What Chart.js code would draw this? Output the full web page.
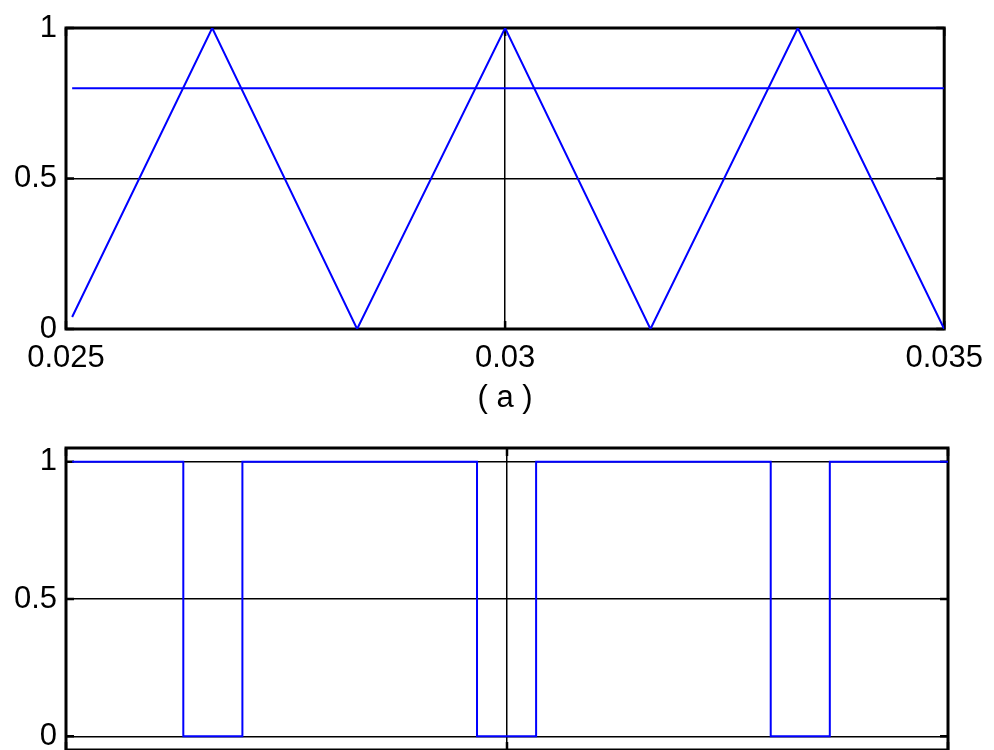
<!DOCTYPE html>
<html>
<head>
<meta charset="utf-8">
<script src="https://cdn.jsdelivr.net/npm/chart.js@4"></script>
<style>
  html, body { margin: 0; padding: 0; background: #fff; overflow: hidden; }
  #wrap { position: relative; width: 994px; height: 750px; overflow: hidden; }
  .box { position: absolute; left: 0; width: 994px; }
  #boxA { top: 0; height: 440px; }
  #boxB { top: 400px; height: 400px; }
</style>
</head>
<body>
<div id="wrap">
  <div class="box" id="boxA"><canvas id="chartA"></canvas></div>
  <div class="box" id="boxB"><canvas id="chartB"></canvas></div>
</div>
<script>
/* ── Data ────────────────────────────────────────────────────── */
const xTicks = [0.025, 0.03, 0.035];
const xTickLabels = ['0.025', '0.03', '0.035'];
const yTicks = [0, 0.5, 1];
const yTickLabels = ['0', '0.5', '1'];

// (a) carrier triangle + reference level
const carrierX = [0.02507, 0.026665, 0.028315, 0.03, 0.031655, 0.033333, 0.035];
const carrierY = [0.04, 1, 0, 1, 0, 1, 0];
const refX = [0.02507, 0.035];
const refY = [0.8, 0.8];

// (b) gate pulses (stepped)
const pulseX = [0.02507, 0.02633, 0.02700, 0.02966, 0.03033, 0.03299, 0.03366, 0.035];
const pulseY = [1, 0, 1, 0, 1, 0, 1, 1];

/* ── Shared bits ─────────────────────────────────────────────── */
const FONT = { family: '"Liberation Sans", Arial, sans-serif', size: 31 };
const BLUE = '#0000ff';
const pts = (xs, ys) => xs.map((x, i) => ({ x, y: ys[i] }));

// axes box + inward tick marks, drawn under the data
const boxPlugin = {
    id: 'matlabBox',
    beforeDatasetsDraw(chart) {
        const { ctx, chartArea: a, scales } = chart;
        ctx.save();
        ctx.strokeStyle = '#000';
        ctx.lineWidth = 3;
        ctx.strokeRect(a.left, a.top, a.right - a.left, a.bottom - a.top);
        ctx.lineWidth = 2.5;
        ctx.beginPath();
        xTicks.forEach(v => {
            const px = scales.x.getPixelForValue(v);
            ctx.moveTo(px, a.bottom); ctx.lineTo(px, a.bottom - 8);
            ctx.moveTo(px, a.top); ctx.lineTo(px, a.top + 8);
        });
        yTicks.forEach(v => {
            const py = scales.y.getPixelForValue(v);
            ctx.moveTo(a.left, py); ctx.lineTo(a.left + 8, py);
            ctx.moveTo(a.right, py); ctx.lineTo(a.right - 8, py);
        });
        ctx.stroke();
        ctx.restore();
    }
};

function fixedTicks(values) {
    return scale => { scale.ticks = values.map(v => ({ value: v })); };
}

function makeOptions(cfg) {
    return {
        responsive: true, maintainAspectRatio: false,
        animation: false,
        layout: { padding: cfg.padding },
        plugins: { legend: { display: false }, tooltip: { enabled: false } },
        scales: {
            x: {
                type: 'linear', min: 0.025, max: 0.035,
                afterBuildTicks: fixedTicks(xTicks),
                afterFit: s => { s.height = cfg.xHeight; },
                border: { display: false },
                grid: { color: '#000', lineWidth: 1.5, drawTicks: false },
                ticks: {
                    display: cfg.xLabels, color: '#000', font: FONT, padding: 11,
                    maxRotation: 0, align: 'center',
                    callback: (v, i) => xTickLabels[i],
                },
                title: {
                    display: !!cfg.xTitle, text: cfg.xTitle || '', color: '#000', font: FONT,
                    padding: { top: 0, bottom: 0 },
                },
            },
            y: {
                min: cfg.yMin, max: cfg.yMax,
                afterBuildTicks: fixedTicks(yTicks),
                afterFit: s => { s.width = 66; },
                border: { display: false },
                grid: { color: '#000', lineWidth: 1.5, drawTicks: false },
                ticks: {
                    color: '#000', font: FONT, padding: 9, crossAlign: 'near',
                    callback: (v, i) => yTickLabels[i],
                },
            },
        },
    };
}

/* ── (a) ─────────────────────────────────────────────────────── */
new Chart(document.getElementById('chartA'), {
    type: 'line',
    data: {
        datasets: [
            { data: pts(carrierX, carrierY), borderColor: BLUE, borderWidth: 2, pointRadius: 0, tension: 0 },
            { data: pts(refX, refY), borderColor: BLUE, borderWidth: 2, pointRadius: 0, tension: 0 },
        ],
    },
    options: makeOptions({
        padding: { top: 28, right: 46, bottom: 23, left: 0 },
        xHeight: 88, xLabels: true, xTitle: '( a )',
        yMin: 0, yMax: 1,
    }),
    plugins: [boxPlugin],
});

/* ── (b) ─────────────────────────────────────────────────────── */
new Chart(document.getElementById('chartB'), {
    type: 'line',
    data: {
        datasets: [
            { data: pts(pulseX, pulseY), borderColor: BLUE, borderWidth: 2, pointRadius: 0, stepped: true },
        ],
    },
    options: makeOptions({
        padding: { top: 48, right: 46, bottom: 50, left: 0 },
        xHeight: 0, xLabels: false, xTitle: '',
        yMin: -0.05, yMax: 1.05,
    }),
    plugins: [boxPlugin],
});
</script>
</body>
</html>
